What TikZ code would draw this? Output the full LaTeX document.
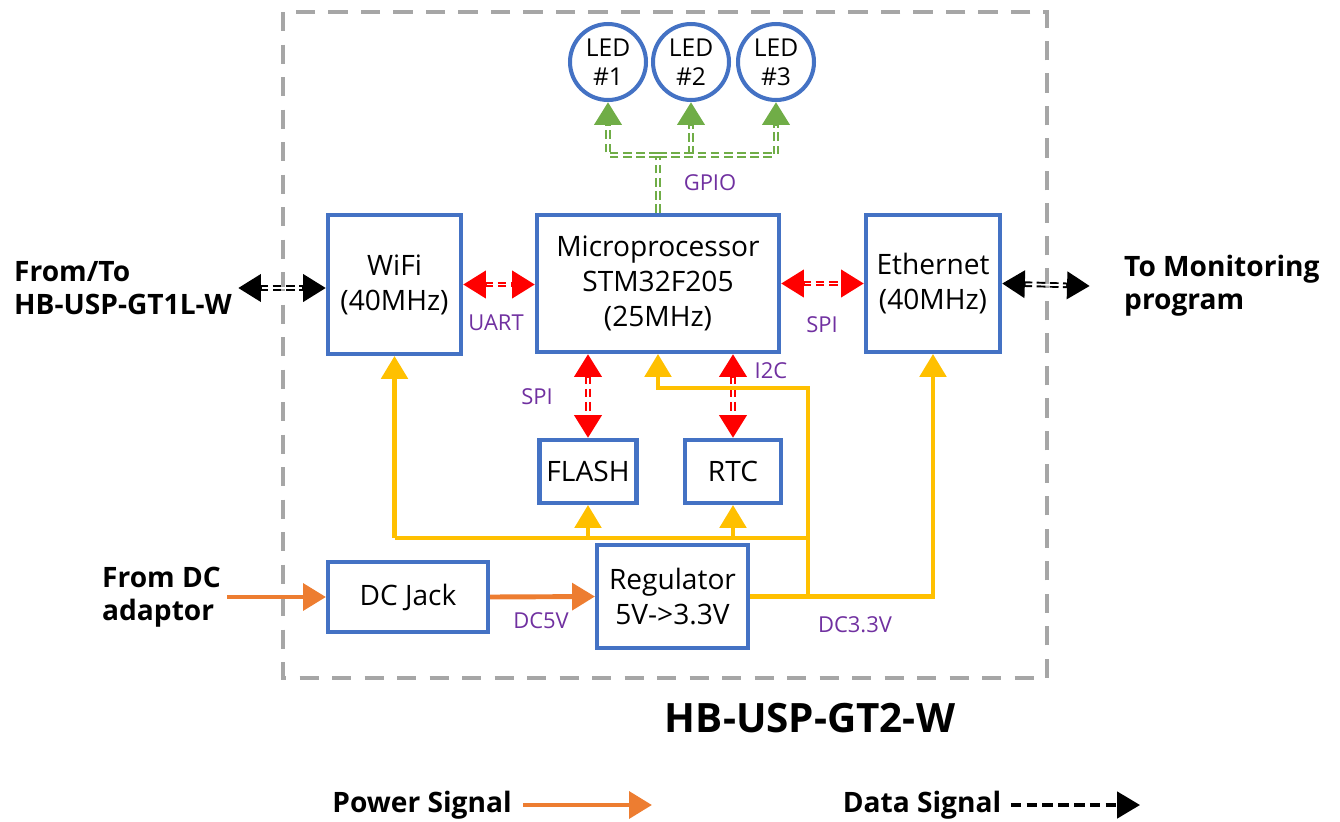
\documentclass[tikz,border=0pt]{standalone}
\usepackage{fontspec}
\setmainfont{Open Sans}
\usepackage{tikz}
\usetikzlibrary{arrows.meta,positioning}

\definecolor{bblue}{HTML}{4472C4}
\definecolor{porange}{HTML}{ED7D31}
\definecolor{pyellow}{HTML}{FFC000}
\definecolor{dgreen}{HTML}{70AD47}
\definecolor{lpurple}{HTML}{7030A0}
\definecolor{fgray}{HTML}{A6A6A6}

\begin{document}
\begin{tikzpicture}[
  x=0.02cm, y=-0.02cm,
  >={Triangle[length=13pt,width=15pt]},
  blk/.style={draw=bblue,line width=2.3pt,fill=white,align=center,inner sep=2pt,font=\fontsize{16}{20}\selectfont},
  led/.style={circle,draw=bblue,line width=2.3pt,fill=white,minimum size=1.52cm,inner sep=0pt,align=center,font=\fontsize{14}{16.5}\selectfont},
  lbl/.style={text=lpurple,font=\fontsize{12.5}{15}\selectfont},
  ext/.style={align=left,font=\fontsize{16}{19}\selectfont\bfseries},
  dl/.style={line width=3.2pt,dash pattern=on 5pt off 2.5pt},
  wbar/.style 2 args={postaction={draw=white,solid,line width=1pt,-,shorten <=#1,shorten >=#2}},
  rdat/.style={dl,draw=red,<->,wbar={13.5pt}{13.5pt}},
  kdat/.style={dl,draw=black,<->,wbar={13.5pt}{13.5pt}},
  gdat/.style={dl,draw=dgreen,->,wbar={0pt}{13.5pt}},
  gbus/.style={dl,draw=dgreen,wbar={0pt}{0pt}},
  pwl/.style={draw=pyellow,line width=2.3pt},
  pw/.style={pwl,->},
  po/.style={draw=porange,line width=2.8pt,->}
]
\useasboundingbox (0,0) rectangle (1340,822);

% board outline
\draw[fgray,line width=2.3pt,dash pattern=on 11pt off 7.5pt] (283,12) rectangle (1047,678);

% blocks
\node[blk,minimum width=2.66cm,minimum height=2.78cm] (wifi) at (394.5,284.5) {WiFi\\(40MHz)};
\node[blk,minimum width=4.84cm,minimum height=2.74cm] (mcu) at (658,283.5) {Microprocessor\\STM32F205\\(25MHz)};
\node[blk,minimum width=2.68cm,minimum height=2.74cm] (eth) at (933,283.5) {Ethernet\\(40MHz)};
\node[blk,minimum width=1.94cm,minimum height=1.26cm] (flash) at (588,471.5) {FLASH};
\node[blk,minimum width=1.92cm,minimum height=1.26cm] (rtc) at (733,471.5) {RTC};
\node[blk,minimum width=3.2cm,minimum height=1.4cm] (jack) at (408,597) {DC Jack};
\node[blk,minimum width=3.02cm,minimum height=2.06cm] (reg) at (672.5,596.5) {Regulator\\5V->3.3V};

\node[led] (led1) at (608,62) {LED\\\#1};
\node[led] (led2) at (691,62) {LED\\\#2};
\node[led] (led3) at (776,62) {LED\\\#3};

% outside
\node[ext,anchor=west] (gt1) at (8,288) {From/To\\HB-USP-GT1L-W};
\node[ext,anchor=west] (mon) at (1118,286) {To Monitoring\\program};
\node[ext,anchor=west] (adp) at (96,597) {From DC\\adaptor};
\node[font=\fontsize{23}{28}\selectfont\bfseries] (ttl) at (810,718) {HB-USP-GT2-W};

% bus labels
\node[lbl] (gpio) at (710,183) {GPIO};
\node[lbl] (uart) at (496,323) {UART};
\node[lbl] (spi1) at (822,325) {SPI};
\node[lbl] (spi2) at (537,397) {SPI};
\node[lbl] (i2c) at (771,371) {I2C};
\node[lbl] (dc5) at (541,621) {DC5V};
\node[lbl] (dc33) at (855,625) {DC3.3V};

% data
\coordinate (gb) at (658,155);
\draw[gbus] (mcu.north) -- (gb);
\draw[gdat] (gb) -| (led1.south);
\draw[gdat] (led2.south |- gb) -- (led2.south);
\draw[gdat] (gb) -| (led3.south);
\draw[rdat] (wifi.east) -- (wifi.east -| mcu.west);
\draw[rdat] (mcu.east) -- (eth.west);
\draw[rdat] (flash.north |- mcu.south) -- (flash.north);
\draw[rdat] (rtc.north |- mcu.south) -- (rtc.north);
\draw[kdat] (gt1.east) -- (gt1.east -| wifi.west);
\draw[kdat] (eth.east) -- ([xshift=-16pt]mon.west);

% power
\draw[po] (adp.east) -- (jack.west);
\draw[po] (jack.east) -- (reg.west);
\coordinate (jn) at (808,538);
\coordinate (mt) at (808,388);
\draw[pw] (reg.east) -| (eth.south);
\draw[pw] (reg.east -| mt) -- (mt) -| (mcu.south);
\draw[pwl] (jn) -- (wifi.south |- jn);
\draw[pw] (wifi.south |- jn) -- (wifi.south);
\draw[pw] (flash.south |- jn) -- (flash.south);
\draw[pw] (rtc.south |- jn) -- (rtc.south);

% legend
\node[ext] (psig) at (422,805) {Power Signal};
\coordinate (pend) at (652,805);
\draw[po] ([xshift=3pt]psig.east) -- (pend);
\node[ext] (dsig) at (922,805) {Data Signal};
\coordinate (dend) at (1140,805);
\draw[black,line width=1.8pt,dash pattern=on 6pt off 3pt,->] ([xshift=2pt]dsig.east) -- (dend);
\end{tikzpicture}
\end{document}
